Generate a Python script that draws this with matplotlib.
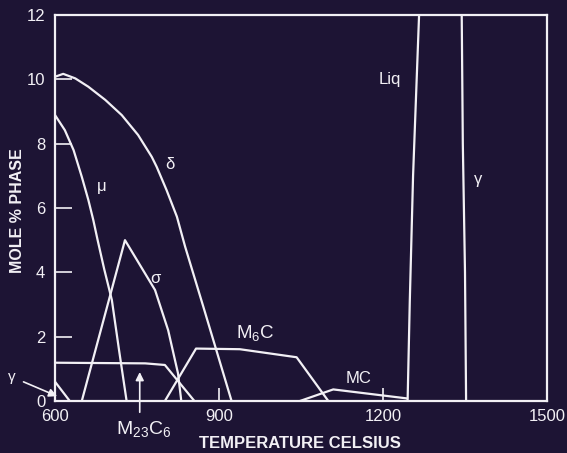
import matplotlib
matplotlib.use("Agg")
import matplotlib.pyplot as plt

# --- COLOURS / FONTS ---
bg = "#1d1434"
fg = "#f2f0f5"
plt.rcParams['font.family'] = ['Liberation Sans', 'DejaVu Sans']
plt.rcParams['mathtext.fontset'] = 'custom'
plt.rcParams['mathtext.rm'] = 'Liberation Sans'
plt.rcParams['mathtext.default'] = 'regular'

# --- DATA ---
delta_T = [600, 615, 637, 661, 692, 722, 752, 777, 786, 804, 823, 838, 871, 923]
delta_Y = [10.08, 10.17, 10.03, 9.77, 9.36, 8.89, 8.27, 7.59, 7.28, 6.56, 5.73, 4.80, 2.95, 0]

mu_T = [600, 618, 634, 649, 661, 670, 678, 690, 704, 717, 731]
mu_Y = [8.89, 8.42, 7.80, 6.97, 6.25, 5.63, 5.0, 4.1, 3.14, 1.6, 0]

sigma_T = [649, 728, 783, 807, 825, 831]
sigma_Y = [0, 5.0, 3.45, 2.2, 0.86, 0]

m23c6_T = [600, 765, 801, 855]
m23c6_Y = [1.19, 1.17, 1.12, 0]

m6c_T = [801, 858, 938, 1042, 1100]
m6c_Y = [0, 1.63, 1.61, 1.36, 0]

mc_T = [1048, 1109, 1244]
mc_Y = [0, 0.36, 0.08]

liq_T = [1245, 1249, 1255, 1266]
liq_Y = [0, 3.1, 7.0, 12]

gamma_T = [1344, 1346, 1350, 1352]
gamma_Y = [12, 8, 4, 0]

gamma_low_T = [600, 627]
gamma_low_Y = [0.6, 0]

x_ticks = [600, 900, 1200, 1500]
y_ticks = [0, 2, 4, 6, 8, 10, 12]

# --- PLOT ---
fig = plt.figure(figsize=(5.67, 4.53), dpi=100, facecolor=bg)
ax = fig.add_axes([55/567, 1 - 401/453, 492/567, 386/453], facecolor=bg)

lw = 1.6
for T, Y in [(delta_T, delta_Y), (mu_T, mu_Y), (sigma_T, sigma_Y),
             (m23c6_T, m23c6_Y), (m6c_T, m6c_Y), (mc_T, mc_Y),
             (liq_T, liq_Y), (gamma_T, gamma_Y), (gamma_low_T, gamma_low_Y)]:
    ax.plot(T, Y, color=fg, lw=lw, solid_joinstyle='round')

ax.set_xlim(600, 1500)
ax.set_ylim(0, 12)
ax.set_xticks(x_ticks)
ax.set_yticks(y_ticks)
ax.tick_params(axis='y', direction='in', length=12, width=1.2, color=fg,
               labelcolor=fg, labelsize=12, pad=7)
ax.tick_params(axis='x', direction='in', length=9.5, width=1.2, color=fg,
               labelcolor=fg, labelsize=12, pad=6)
for s in ax.spines.values():
    s.set_color(fg)
    s.set_linewidth(1.6)

# phase labels
lab = dict(color=fg, fontsize=12, ha='center', va='center')
ax.text(1213, 10.0, "Liq", **lab)
ax.text(1374, 6.9, "γ", **lab)
ax.text(810, 7.34, "δ", **lab)
ax.text(685, 6.68, "μ", **lab)
ax.text(783, 3.81, "σ", **lab)
ax.text(966, 2.11, "M$_6$C", color=fg, fontsize=13.5, ha='center', va='center')
ax.text(1155, 0.7, "MC", **lab)

# arrows
ax.annotate("γ", xy=(604, 0.15), xytext=(521, 0.75), color=fg, fontsize=11,
            ha='center', va='center', annotation_clip=False,
            arrowprops=dict(arrowstyle='-|>', color=fg, lw=1.2,
                            mutation_scale=12, shrinkA=4, shrinkB=0))
ax.annotate("", xy=(755, 0.9), xytext=(755, -0.35), annotation_clip=False,
            arrowprops=dict(arrowstyle='-|>', color=fg, lw=1.2,
                            mutation_scale=12, shrinkA=0, shrinkB=0))
ax.text(763, -0.55, "M$_{23}$C$_6$", color=fg, fontsize=14, ha='center',
        va='top', clip_on=False)

fig.text(300/567, 1 - 444/453, "TEMPERATURE CELSIUS", color=fg, fontsize=12,
         fontweight='bold', ha='center', va='center')
fig.text(17.5/567, 1 - 211/453, "MOLE % PHASE", color=fg, fontsize=11.5,
         fontweight='bold', ha='center', va='center', rotation=90)

fig.savefig("out.png", dpi=100, facecolor=bg)
